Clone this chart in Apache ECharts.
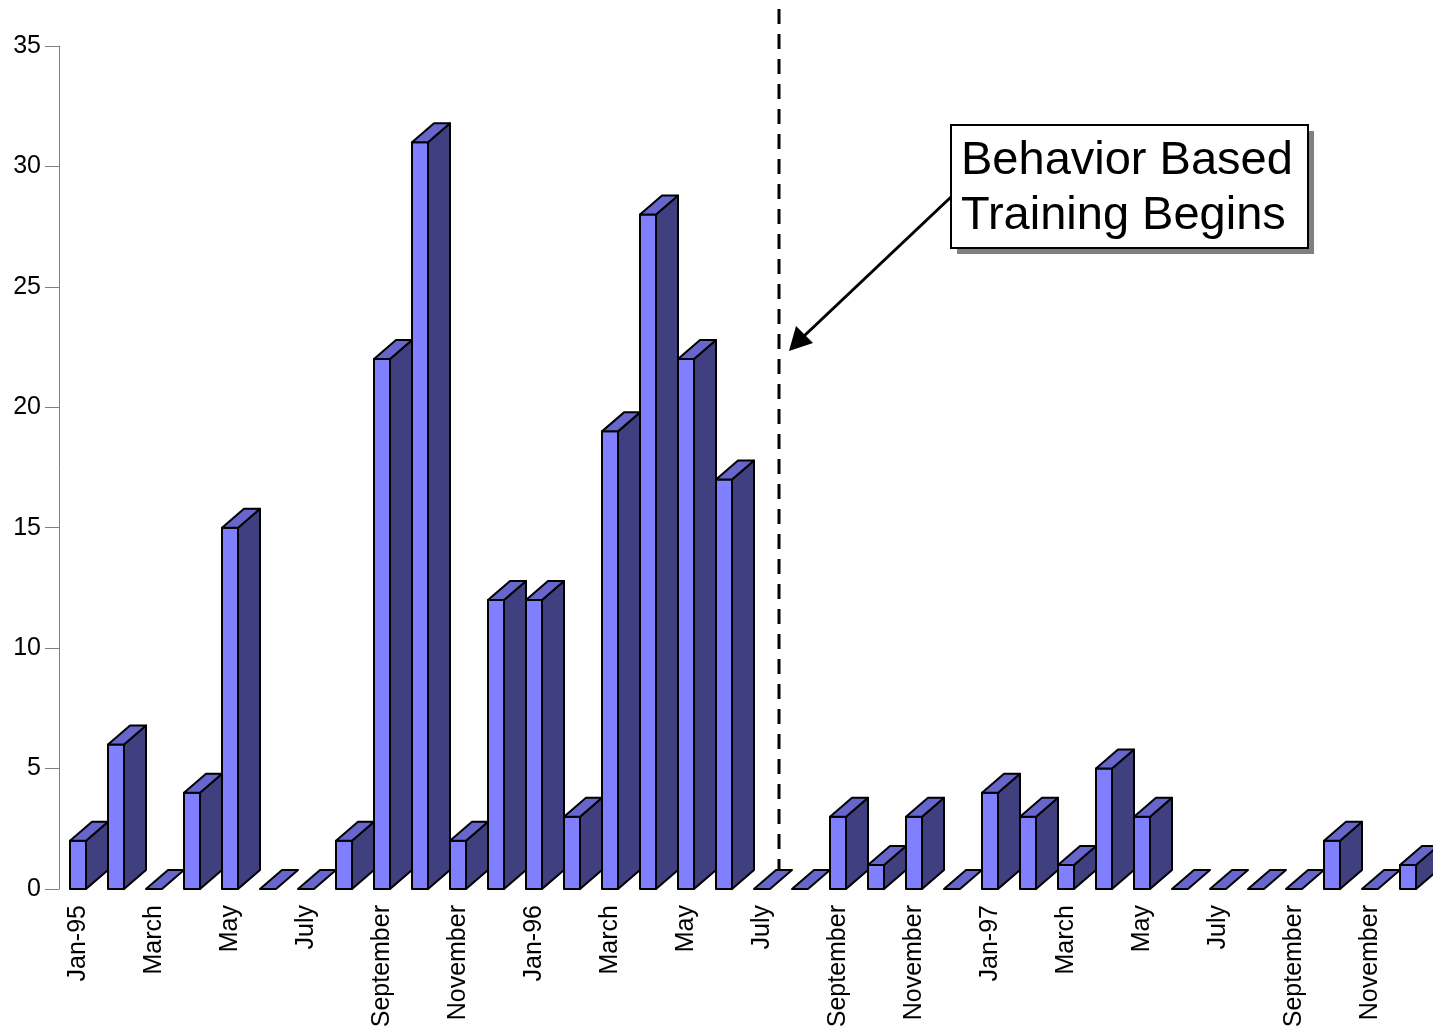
<!DOCTYPE html>
<html>
<head>
<meta charset="utf-8">
<script src="https://cdn.jsdelivr.net/npm/echarts@6/dist/echarts.min.js"></script>
<style>
  html, body { margin: 0; padding: 0; background: #fff; }
  #chart { width: 1433px; height: 1031px; }
</style>
</head>
<body>
<div id="chart"></div>
<script>
const months = [
  'Jan-95', 'February', 'March', 'April', 'May', 'June', 'July', 'August', 'September', 'October', 'November', 'December',
  'Jan-96', 'February', 'March', 'April', 'May', 'June', 'July', 'August', 'September', 'October', 'November', 'December',
  'Jan-97', 'February', 'March', 'April', 'May', 'June', 'July', 'August', 'September', 'October', 'November', 'December'
]
const incidents = [
  2, 6, 0, 4, 15, 0, 0, 2, 22, 31, 2, 12,
  12, 3, 19, 28, 22, 17, 0, 0, 3, 1, 3, 0,
  4, 3, 1, 5, 3, 0, 0, 0, 0, 2, 0, 1
]
const trainingStartIndex = 18   // dashed line sits right after July-96
const yTicks = { min: 0, max: 35, step: 5 }

const font = 'Arial, "Liberation Sans", sans-serif'
const FRONT = '#8080ff', SIDE = '#404080', TOP = '#6666cc'
const DX = 22, DY = -19, W = 16

function renderBar(params, api) {
  const i = api.value(0)
  const top = api.coord([i, api.value(1)])
  const base = api.coord([i, 0])
  const x0 = top[0] - W / 2, x1 = top[0] + W / 2
  const yt = top[1], yb = base[1]
  const line = { stroke: '#000', lineWidth: 2, lineJoin: 'round' }
  const children = []
  if (yb - yt > 0.5) {
    children.push({
      type: 'polygon',
      shape: { points: [[x1, yb], [x1 + DX, yb + DY], [x1 + DX, yt + DY], [x1, yt]] },
      style: Object.assign({ fill: SIDE }, line)
    })
    children.push({
      type: 'rect',
      shape: { x: x0, y: yt, width: W, height: yb - yt },
      style: Object.assign({ fill: FRONT }, line)
    })
  }
  children.push({
    type: 'polygon',
    shape: { points: [[x0, yt], [x1, yt], [x1 + DX, yt + DY], [x0 + DX, yt + DY]] },
    style: Object.assign({ fill: TOP }, line)
  })
  return { type: 'group', children: children }
}

function renderDivider(params, api) {
  const i = api.value(0)
  const p = api.coord([i, 0])
  const band = api.size([1, 0])[0]
  const x = p[0] + band / 2 - 2
  return {
    type: 'line',
    shape: { x1: x, y1: 9, x2: x, y2: p[1] + DY },
    style: { stroke: '#000', lineWidth: 3, lineDash: [15, 10] },
    z2: 10
  }
}

const chart = echarts.init(document.getElementById('chart'))
chart.setOption({
  animation: false,
  backgroundColor: '#fff',
  grid: { left: 59, right: 6, top: 46, bottom: 142, containLabel: false },
  xAxis: {
    type: 'category',
    data: months,
    axisLine: { show: false },
    axisTick: { show: false },
    axisLabel: {
      interval: 1, rotate: 90, margin: 16,
      fontFamily: font, fontSize: 25, color: '#000'
    }
  },
  yAxis: {
    type: 'value',
    min: yTicks.min, max: yTicks.max, interval: yTicks.step,
    axisLine: { show: true, lineStyle: { color: '#808080', width: 1 } },
    axisTick: { show: true, length: 14, lineStyle: { color: '#808080' } },
    splitLine: { show: false },
    axisLabel: { margin: 18, fontFamily: font, fontSize: 25, color: '#000' }
  },
  series: [
    {
      type: 'custom',
      renderItem: renderBar,
      clip: false,
      data: incidents.map((v, i) => [i, v])
    },
    {
      type: 'custom',
      renderItem: renderDivider,
      clip: false,
      z: 5,
      data: [[trainingStartIndex]]
    }
  ],
  graphic: [
    { type: 'rect', shape: { x: 957, y: 131, width: 357, height: 123 }, style: { fill: '#808080' }, z: 20 },
    { type: 'rect', shape: { x: 951, y: 125, width: 357, height: 123 }, style: { fill: '#fff', stroke: '#000', lineWidth: 2 }, z: 21 },
    { type: 'text', x: 961, y: 161, style: { text: 'Behavior Based', font: '47px ' + font, fill: '#000', verticalAlign: 'middle' }, z: 22 },
    { type: 'text', x: 961, y: 216, style: { text: 'Training Begins', font: '47px ' + font, fill: '#000', verticalAlign: 'middle' }, z: 22 },
    { type: 'line', shape: { x1: 951, y1: 197, x2: 803, y2: 337 }, style: { stroke: '#000', lineWidth: 3 }, z: 20 },
    { type: 'polygon', shape: { points: [[789, 351], [796, 326], [813, 343]] }, style: { fill: '#000' }, z: 20 }
  ]
})
</script>
</body>
</html>
